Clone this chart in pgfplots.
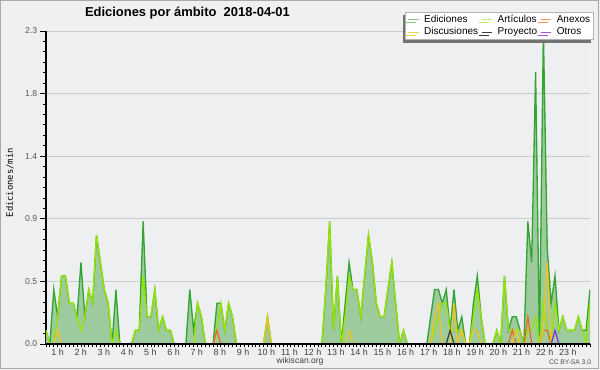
\documentclass[border=0pt]{standalone}
\usepackage{fontspec}
\setmainfont{Liberation Sans}
\newfontfamily\monofont{DejaVu Sans Mono}
\usepackage{pgfplots}
\pgfplotsset{compat=1.18}
\usepackage{pgfplotstable}
\usetikzlibrary{shadows}

\definecolor{outerbg}{RGB}{240,240,240}
\definecolor{plotbg}{RGB}{238,239,241}
\definecolor{framegray}{RGB}{170,170,170}
\definecolor{efill}{RGB}{158,203,158}
\definecolor{eline}{RGB}{50,165,50}
\definecolor{aline}{RGB}{150,228,0}
\definecolor{dline}{RGB}{242,196,30}
\definecolor{nline}{RGB}{240,100,30}
\definecolor{pline}{RGB}{60,60,60}
\definecolor{oline}{RGB}{140,40,230}

\pgfplotstableread{
i E A D N P O
0 0.1 0.1 0 0 0 0
1 0 0 0 0 0 0
2 0.4 0 0 0 0 0
3 0.2 0.2 0.1 0 0 0
4 0.5 0.5 0 0 0 0
5 0.5 0.5 0 0 0 0
6 0.3 0.3 0 0 0 0
7 0.3 0.3 0 0 0 0
8 0.2 0.2 0 0 0 0
9 0.6 0.1 0 0 0 0
10 0.2 0.2 0 0 0 0
11 0.4 0.4 0 0 0 0
12 0.3 0.3 0 0 0 0
13 0.8 0.8 0 0 0 0
14 0.6 0.6 0 0 0 0
15 0.4 0.4 0 0 0 0
16 0.3 0.3 0 0 0 0
17 0 0 0 0 0 0
18 0.4 0.1 0 0 0 0
19 0 0 0 0 0 0
20 0 0 0 0 0 0
21 0 0 0 0 0 0
22 0 0 0 0 0 0
23 0.1 0.1 0 0 0 0
24 0.1 0.1 0 0 0 0
25 0.9 0.5 0 0 0 0
26 0.2 0.2 0 0 0 0
27 0.2 0.2 0 0 0 0
28 0.4 0.4 0 0 0 0
29 0.1 0.1 0 0 0 0
30 0.2 0.2 0 0 0 0
31 0.1 0.1 0 0 0 0
32 0.1 0.1 0 0 0 0
33 0 0 0 0 0 0
34 0 0 0 0 0 0
35 0 0 0 0 0 0
36 0 0 0 0 0 0
37 0.4 0 0 0 0 0
38 0.1 0 0 0 0 0
39 0.3 0.3 0 0 0 0
40 0.2 0.2 0 0 0 0
41 0 0 0 0 0 0
42 0 0 0 0 0 0
43 0 0 0 0 0 0
44 0.3 0.1 0 0.1 0 0
45 0.3 0.3 0 0 0 0
46 0.1 0.1 0 0 0 0
47 0.3 0.3 0 0 0 0
48 0.2 0.2 0 0 0 0
49 0 0 0 0 0 0
50 0 0 0 0 0 0
51 0 0 0 0 0 0
52 0 0 0 0 0 0
53 0 0 0 0 0 0
54 0 0 0 0 0 0
55 0 0 0 0 0 0
56 0 0 0 0 0 0
57 0.2 0.2 0.2 0 0 0
58 0 0 0 0 0 0
59 0 0 0 0 0 0
60 0 0 0 0 0 0
61 0 0 0 0 0 0
62 0 0 0 0 0 0
63 0 0 0 0 0 0
64 0 0 0 0 0 0
65 0 0 0 0 0 0
66 0 0 0 0 0 0
67 0 0 0 0 0 0
68 0 0 0 0 0 0
69 0 0 0 0 0 0
70 0 0 0 0 0 0
71 0 0 0 0 0 0
72 0.4 0.4 0 0 0 0
73 0.9 0.9 0 0 0 0
74 0.1 0.1 0 0 0 0
75 0.5 0.5 0 0 0 0
76 0 0 0 0 0 0
77 0.3 0.2 0 0 0 0
78 0.6 0.5 0.1 0 0 0
79 0.4 0.4 0 0 0 0
80 0.4 0.4 0 0 0 0
81 0.2 0.2 0 0 0 0
82 0.5 0.5 0 0 0 0
83 0.8 0.8 0 0 0 0
84 0.6 0.6 0 0 0 0
85 0.3 0.3 0 0 0 0
86 0.2 0.2 0 0 0 0
87 0.2 0.2 0 0 0 0
88 0.4 0.4 0 0 0 0
89 0.6 0.6 0 0 0 0
90 0.3 0.3 0 0 0 0
91 0 0 0 0 0 0
92 0.1 0.1 0 0 0 0
93 0 0 0 0 0 0
94 0 0 0 0 0 0
95 0 0 0 0 0 0
96 0 0 0 0 0 0
97 0 0 0 0 0 0
98 0 0 0 0 0 0
99 0.2 0 0 0 0 0
100 0.4 0.1 0.2 0 0 0
101 0.4 0.2 0.3 0 0 0
102 0.3 0.3 0 0 0 0
103 0.4 0.3 0 0 0 0
104 0.1 0.1 0 0 0.1 0
105 0.4 0.1 0.3 0 0 0
106 0.1 0.1 0 0 0 0
107 0.2 0.1 0.1 0 0 0
108 0 0 0 0 0 0
109 0 0 0 0 0 0
110 0.3 0.2 0.1 0 0 0
111 0.5 0.4 0.1 0 0 0
112 0.2 0.2 0 0 0 0
113 0 0 0 0 0 0
114 0 0 0 0 0 0
115 0 0 0 0 0 0
116 0.1 0.1 0 0 0 0
117 0 0 0 0 0 0
118 0.5 0.5 0 0 0 0
119 0.1 0.1 0 0 0 0
120 0.2 0.1 0 0.1 0 0
121 0.2 0.1 0.1 0 0 0
122 0.1 0.1 0 0 0 0
123 0 0 0 0 0 0
124 0.9 0.1 0 0.2 0 0
125 0.6 0.1 0 0 0 0
126 2.0 0.2 0 0 0 0
127 0 0 0 0 0 0
128 2.3 0.3 0.1 0.1 0 0
129 0.7 0.1 0.6 0.1 0 0
130 0.3 0 0 0 0 0
131 0.5 0.3 0 0 0 0.1
132 0.1 0.1 0 0 0 0
133 0.2 0.2 0 0 0 0
134 0.1 0.1 0 0 0 0
135 0.1 0.1 0 0 0 0
136 0.1 0.1 0 0 0 0
137 0.2 0.2 0 0 0 0
138 0.1 0.1 0 0 0 0
139 0.1 0 0 0 0 0
140 0.4 0.3 0 0 0 0
}\data

\begin{document}
\begin{tikzpicture}
\useasboundingbox (0pt,0pt) rectangle (450pt,277.5pt);
\fill[outerbg] (0pt,0pt) rectangle (450pt,277.5pt);
\draw[framegray, line width=0.75pt] (0.375pt,1.125pt) rectangle (448.875pt,277.125pt);
\begin{axis}[
  at={(34.5pt,19.5pt)}, anchor=south west,
  scale only axis, width=408pt, height=234.75pt,
  xmin=0, xmax=140, ymin=0, ymax=2.3,
  axis lines*=left,
  x axis line style={black, line width=1.2pt},
  y axis line style={black, line width=0.8pt},
  axis background/.style={fill=plotbg},
  ymajorgrids, grid style={gray!40, line width=0.7pt},
  tick align=outside,
  ytick={0,0.46,0.92,1.38,1.84,2.3},
  yticklabels={0.0,0.5,0.9,1.4,1.8,2.3},
  minor y tick num=5,
  xtick={2.97,8.94,14.91,20.88,26.85,32.82,38.79,44.76,50.73,56.70,62.67,68.64,74.61,80.58,86.55,92.52,98.49,104.46,110.43,116.40,122.37,128.34,134.31},
  xticklabels={1 h,2 h,3 h,4 h,5 h,6 h,7 h,8 h,9 h,10 h,11 h,12 h,13 h,14 h,15 h,16 h,17 h,18 h,19 h,20 h,21 h,22 h,23 h},
  minor xtick={0,1,...,140},
  major x tick style={draw=none},
  tick style={black, line width=0.6pt},
  major tick length=4.5pt, minor tick length=2.5pt,
  xticklabel style={font=\fontsize{6.7}{7}\selectfont, text=black!75, yshift=4.2pt},
  yticklabel style={font=\fontsize{6.5}{7}\selectfont, text=black!65, xshift=1.5pt},
  ylabel={Ediciones/min},
  ylabel style={at={(axis description cs:-0.0662,0.515)}, anchor=center, font=\monofont\fontsize{6.6}{7}\selectfont},
  legend columns=3,
  legend cell align=left,
  legend image code/.code={\draw[#1] (0pt,0pt) -- (8pt,0pt);},
  legend style={at={(1.0074,1.0617)}, anchor=north east, draw=gray!60, fill=white,
    font=\fontsize{7.5}{8}\selectfont, inner xsep=1.5pt, inner ysep=1pt,
    nodes={inner sep=1.2pt},
    /tikz/every odd column/.append style={column sep=2.5pt},
    /tikz/every even column/.append style={column sep=1pt},
    drop shadow={shadow xshift=-2.25pt, shadow yshift=-2.25pt, fill=black!55, opacity=1}},
]
\addlegendimage{color=eline!60, line width=0.8pt}\addlegendentry{Ediciones}
\addlegendimage{color=aline!60, line width=0.8pt}\addlegendentry{Artículos}
\addlegendimage{color=nline!70, line width=0.8pt}\addlegendentry{Anexos}
\addlegendimage{color=dline!80, line width=0.8pt}\addlegendentry{Discusiones}
\addlegendimage{color=pline, line width=0.8pt}\addlegendentry{Proyecto}
\addlegendimage{color=oline!80, line width=0.8pt}\addlegendentry{Otros}

\addplot[fill=efill, draw=none, forget plot] table[x=i, y=E] {\data} \closedcycle;
\addplot[eline, line width=1pt, forget plot] table[x=i, y=E] {\data};
\addplot[aline, line width=1pt, forget plot] table[x=i, y=A] {\data};
\addplot[nline, line width=0.9pt, forget plot] table[x=i, y=N] {\data};
\addplot[dline, line width=0.9pt, forget plot] table[x=i, y=D] {\data};
\addplot[pline, line width=0.9pt, forget plot] table[x=i, y=P] {\data};
\addplot[oline, line width=0.9pt, forget plot] table[x=i, y=O] {\data};
\draw[black, line width=1.2pt] (rel axis cs:0,0) -- (rel axis cs:1,0);
\end{axis}
\node[font=\bfseries\fontsize{9.7}{11}\selectfont, anchor=center] at (140.6pt,267.4pt) {Ediciones por ámbito\ \ 2018-04-01};
\node[font=\fontsize{6.4}{7}\selectfont, text=black!75, anchor=center] at (225pt,6.4pt) {wikiscan.org};
\node[font=\fontsize{5}{6}\selectfont, text=black!70, anchor=center] at (427.5pt,6pt) {CC BY-SA 3.0};
\end{tikzpicture}
\end{document}
